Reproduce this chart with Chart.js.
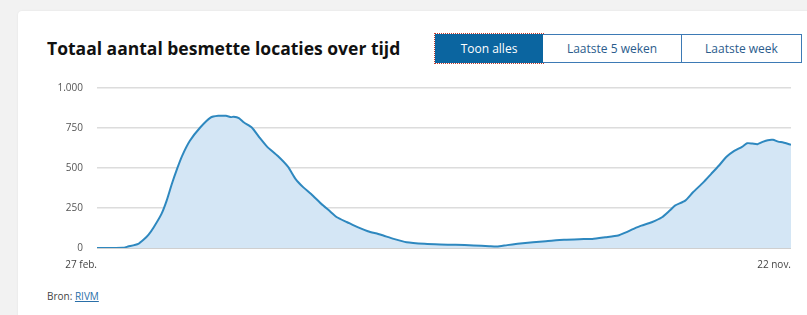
<!DOCTYPE html>
<html>
<head>
<meta charset="utf-8">
<script src="https://cdn.jsdelivr.net/npm/chart.js@4.4.0/dist/chart.umd.min.js"></script>
<style>
  body { margin: 0; background: #f2f2f2; font-family: "Open Sans", sans-serif; }
  .card { position: absolute; left: 18px; top: 11px; width: 800px; height: 320px; background: #fff; border-radius: 4px; box-shadow: 0 0 2px rgba(0,0,0,0.08); }
  h2 { position: absolute; left: 47px; top: 36px; margin: 0; font-size: 17.5px; font-weight: 700; color: #111; }
  .btns { position: absolute; left: 435px; top: 34px; display: flex; }
  .btns button { height: 29px; font-family: "Open Sans", sans-serif; font-size: 12px; color: #2b5c8c; background: #fff; border: 1px solid #3d7ab5; margin: 0; padding: 0; }
  .btns .on { background: #0b65a0; color: #fff; outline: 1px dotted #c0392b; border-color: #0b65a0; }
  #wrap { position: absolute; left: 40px; top: 68px; width: 754px; height: 205px; }
  .bron { position: absolute; left: 47px; top: 289px; font-size: 10px; color: #444; }
  .bron a { color: #2a6fa8; }
</style>
</head>
<body>
<div class="card"></div>
<h2>Totaal aantal besmette locaties over tijd</h2>
<div class="btns">
  <button class="on" style="width:108px">Toon alles</button>
  <button style="width:139px;border-left:none">Laatste 5 weken</button>
  <button style="width:120px;border-left:none">Laatste week</button>
</div>
<div id="wrap"><canvas id="graphics"></canvas></div>
<div class="bron">Bron: <a href="#">RIVM</a></div>
<script>
// dagen sinds 27 feb. 2020
const days = [0, 5, 10, 12, 16, 18, 20, 22, 25, 27, 29, 31, 33, 36, 40, 44, 47, 50, 52, 53, 55,
  57, 60, 63, 66, 70, 74, 77, 80, 83, 87, 90, 93, 97, 101, 105, 109, 111, 115, 120, 127,
  133, 139, 146, 152, 155, 159, 163, 169, 174, 181, 187, 192, 197, 202, 205, 208, 211, 215,
  219, 222, 224, 228, 231, 235, 238, 241, 244, 247, 250, 252, 254, 256, 258, 260, 262, 264, 266, 269];
const locaties = [0, 0, 1, 9, 26, 51, 84, 130, 213, 296, 400, 493, 576, 670, 753, 815, 826, 826, 818, 821, 812,
  784, 753, 690, 632, 576, 508, 431, 379, 338, 275, 234, 192, 161, 130, 105, 88, 78, 57, 36, 26,
  22, 20, 16, 11, 9, 18, 26, 36, 42, 51, 55, 57, 67, 78, 98, 120, 140, 161,
  192, 234, 265, 296, 348, 410, 462, 514, 570, 607, 632, 655, 653, 649, 663, 674, 676, 665, 659, 645];
const xLabels = { 0: '27 feb.', 269: '22 nov.' };
const yTicks = [0, 250, 500, 750, 1000];

const ctx = document.getElementById('graphics');
new Chart(ctx, {
  type: 'line',
  data: {
    datasets: [{
      label: 'Besmette locaties',
      data: days.map((d, i) => ({ x: d, y: locaties[i] })),
      borderColor: '#2e88bf',
      borderWidth: 2,
      backgroundColor: '#d4e6f5',
      fill: 'origin',
      pointRadius: 0,
      tension: 0.2
    }]
  },
  options: {
    responsive: true,
    maintainAspectRatio: false,
    animation: false,
    plugins: { legend: { display: false }, tooltip: { enabled: false } },
    layout: { padding: 0 },
    scales: {
      x: {
        type: 'linear',
        min: 0,
        max: 269,
        afterBuildTicks: (s) => { s.ticks = Object.keys(xLabels).map(v => ({ value: +v })); },
        afterFit: (s) => { s.height = 25; },
        grid: { display: false },
        border: { display: false },
        ticks: {
          align: 'end',
          maxRotation: 0,
          padding: 3,
          color: '#444',
          font: { family: 'Open Sans', size: 10 },
          callback: (v) => xLabels[v]
        }
      },
      y: {
        min: 0,
        max: 1000,
        afterBuildTicks: (s) => { s.ticks = yTicks.map(v => ({ value: v })); },
        afterFit: (s) => { s.width = 57; },
        border: { display: false },
        grid: {
          drawTicks: false,
          color: (c) => c.tick && c.tick.value === 0 ? '#cfcfcf' : '#dcdcdc',
          lineWidth: (c) => c.tick && c.tick.value === 0 ? 2 : 1.5
        },
        ticks: {
          padding: 14,
          color: '#555',
          font: { family: 'Open Sans', size: 10 },
          callback: (v) => v.toLocaleString('nl-NL')
        }
      }
    }
  }
});
</script>
</body>
</html>
